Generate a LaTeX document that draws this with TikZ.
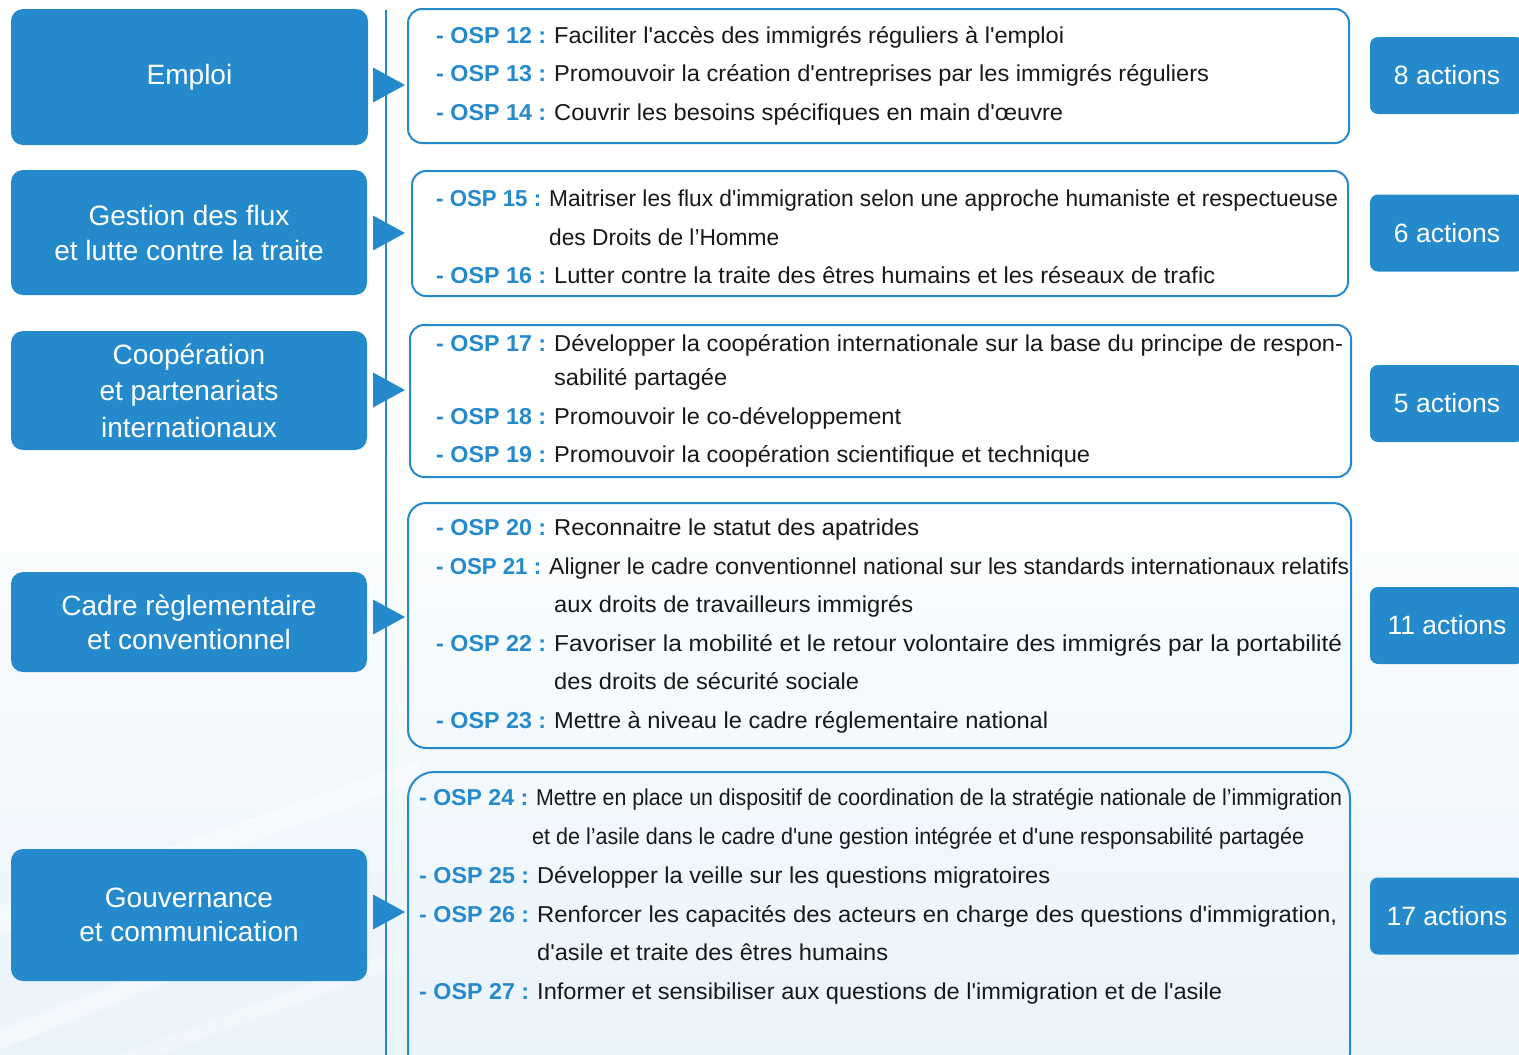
\documentclass[tikz,border=0pt]{standalone}
\usepackage{fontspec}
\setmainfont{Liberation Sans}
\usepackage{graphicx}
\definecolor{blu}{RGB}{36,138,204}
\definecolor{txt}{RGB}{24,24,24}
\definecolor{bgb}{RGB}{233,243,250}
\newsavebox\fwbox
\newcommand\fw[2]{\sbox\fwbox{#2}\pgfmathsetmacro\fwr{#1/\the\wd\fwbox}\scalebox{\fwr}[1]{\usebox\fwbox}}
\newcommand\aq{\textquotesingle}
\tikzset{
  cat/.style={fill=blu, rounded corners=12pt, text=white, font=\fontsize{28}{35}\selectfont, align=center, inner sep=0pt},
  act/.style={fill=blu, rounded corners=8pt, text=white, font=\fontsize{26.5}{30}\selectfont, minimum width=154pt, minimum height=77pt, inner sep=0pt},
  ospbox/.style={draw=blu, line width=2pt, rounded corners=14pt, inner sep=0pt},
  lab/.style={anchor=base west, inner sep=0pt, text=blu, font=\fontsize{23}{26}\selectfont\bfseries},
  desc/.style={anchor=base west, inner sep=0pt, text=txt, font=\fontsize{23}{26}\selectfont},
  tri/.style={fill=blu},
  vline/.style={draw=blu, line width=2pt},
  streak/.style={fill=white, opacity=0.45}
}
\begin{document}
\begin{tikzpicture}[x=1pt,y=-1pt]
\useasboundingbox (0,0) rectangle (1519,1055);
% background
\fill[white] (0,0) rectangle (1519,1055);
\shade[top color=white, bottom color=bgb] (0,430) rectangle (1519,1055);
\fill[streak] (0,905) -- (420,760) -- (420,780) -- (0,935) -- cycle;
\fill[streak] (0,1030) -- (330,900) -- (330,915) -- (0,1050) -- cycle;
\fill[streak, opacity=0.3] (120,1055) -- (400,950) -- (400,965) -- (160,1055) -- cycle;

% vertical line
\coordinate (vt) at (386,10);
\coordinate (vb) at (386,1060);
\draw[vline] (vt) -- (vb);

% category boxes
\node[cat, minimum width=357pt, minimum height=136pt] (emploi) at (189.5,77) {Emploi};
\node[cat, minimum width=356pt, minimum height=125pt] (gestion) at (189,232.5) {Gestion des flux\\et lutte contre la traite};
\node[cat, minimum width=356pt, minimum height=119pt, font=\fontsize{28}{36.5}\selectfont] (coop) at (189,390.5) {Coopération\\et partenariats\\internationaux};
\node[cat, minimum width=356pt, minimum height=100pt] (cadre) at (189,622) {Cadre règlementaire\\[-1pt]et conventionnel};
\node[cat, minimum width=356pt, minimum height=132pt] (gouv) at (189,915) {Gouvernance\\[-1pt]et communication};

% triangles
\fill[tri] (373,67.5) -- (405,85) -- (373,102.5) -- cycle;
\fill[tri] (373,215.5) -- (405,233) -- (373,250.5) -- cycle;
\fill[tri] (373,372.5) -- (405,390) -- (373,407.5) -- cycle;
\fill[tri] (373,599.5) -- (405,617) -- (373,634.5) -- cycle;
\fill[tri] (373,894.5) -- (405,912) -- (373,929.5) -- cycle;

% OSP boxes
\node[ospbox, minimum width=941pt, minimum height=134pt] (b1) at (878.5,76) {};
\node[ospbox, minimum width=936pt, minimum height=125pt] (b2) at (880,233.5) {};
\node[ospbox, minimum width=941pt, minimum height=152pt] (b3) at (880.5,401) {};
\node[ospbox, rounded corners=18pt, minimum width=943pt, minimum height=245pt] (b4) at (879.5,625.5) {};
\node[ospbox, rounded corners=26pt, minimum width=942pt, minimum height=308pt] (b5) at (879,926) {};

% action boxes
\node[act] (a1) at (1447,75.5) {8 actions};
\node[act] (a2) at (1447,233) {6 actions};
\node[act] (a3) at (1447,403.5) {5 actions};
\node[act] (a4) at (1447,625.5) {11 actions};
\node[act] (a5) at (1447,916) {17 actions};

% box 1
\node[lab] (l12) at (436,43) {\fw{110}{- OSP 12 :}};
\node[desc] (d12) at (554,43) {\fw{510}{Faciliter l\aq accès des immigrés réguliers à l\aq emploi}};
\node[lab] (l13) at (436,81) {\fw{110}{- OSP 13 :}};
\node[desc] (d13) at (554,81) {\fw{655}{Promouvoir la création d\aq entreprises par les immigrés réguliers}};
\node[lab] (l14) at (436,120) {\fw{110}{- OSP 14 :}};
\node[desc] (d14) at (554,120) {\fw{509}{Couvrir les besoins spécifiques en main d\aq œuvre}};

% box 2
\node[lab] (l15) at (436,206) {\fw{105}{- OSP 15 :}};
\node[desc] (d15) at (549,206) {\fw{789}{Maitriser les flux d\aq immigration selon une approche humaniste et respectueuse}};
\node[desc] (d15b) at (549,245) {\fw{230}{des Droits de l’Homme}};
\node[lab] (l16) at (436,283) {\fw{110}{- OSP 16 :}};
\node[desc] (d16) at (554,283) {\fw{661}{Lutter contre la traite des êtres humains et les réseaux de trafic}};

% box 3
\node[lab] (l17) at (436,351) {\fw{110}{- OSP 17 :}};
\node[desc] (d17) at (554,351) {\fw{789}{Développer la coopération internationale sur la base du principe de respon-}};
\node[desc] (d17b) at (554,385) {\fw{173}{sabilité partagée}};
\node[lab] (l18) at (436,424) {\fw{110}{- OSP 18 :}};
\node[desc] (d18) at (554,424) {\fw{347}{Promouvoir le co-développement}};
\node[lab] (l19) at (436,462) {\fw{110}{- OSP 19 :}};
\node[desc] (d19) at (554,462) {\fw{536}{Promouvoir la coopération scientifique et technique}};

% box 4
\node[lab] (l20) at (436,535) {\fw{110}{- OSP 20 :}};
\node[desc] (d20) at (554,535) {\fw{365}{Reconnaitre le statut des apatrides}};
\node[lab] (l21) at (436,574) {\fw{105}{- OSP 21 :}};
\node[desc] (d21) at (549,574) {\fw{800}{Aligner le cadre conventionnel national sur les standards internationaux relatifs}};
\node[desc] (d21b) at (554,612) {\fw{359}{aux droits de travailleurs immigrés}};
\node[lab] (l22) at (436,651) {\fw{110}{- OSP 22 :}};
\node[desc] (d22) at (554,651) {\fw{788}{Favoriser la mobilité et le retour volontaire des immigrés par la portabilité}};
\node[desc] (d22b) at (554,689) {\fw{305}{des droits de sécurité sociale}};
\node[lab] (l23) at (436,728) {\fw{110}{- OSP 23 :}};
\node[desc] (d23) at (554,728) {\fw{494}{Mettre à niveau le cadre réglementaire national}};

% box 5
\node[lab] (l24) at (419,805) {\fw{109}{- OSP 24 :}};
\node[desc] (d24) at (536,805) {\fw{806}{Mettre en place un dispositif de coordination de la stratégie nationale de l’immigration}};
\node[desc] (d24b) at (532,844) {\fw{772}{et de l’asile dans le cadre d\aq une gestion intégrée et d\aq une responsabilité partagée}};
\node[lab] (l25) at (419,883) {\fw{110}{- OSP 25 :}};
\node[desc] (d25) at (537,883) {\fw{513}{Développer la veille sur les questions migratoires}};
\node[lab] (l26) at (419,922) {\fw{110}{- OSP 26 :}};
\node[desc] (d26) at (537,922) {\fw{800}{Renforcer les capacités des acteurs en charge des questions d\aq immigration,}};
\node[desc] (d26b) at (537,960) {\fw{351}{d\aq asile et traite des êtres humains}};
\node[lab] (l27) at (419,999) {\fw{110}{- OSP 27 :}};
\node[desc] (d27) at (537,999) {\fw{685}{Informer et sensibiliser aux questions de l\aq immigration et de l\aq asile}};
\end{tikzpicture}
\end{document}
